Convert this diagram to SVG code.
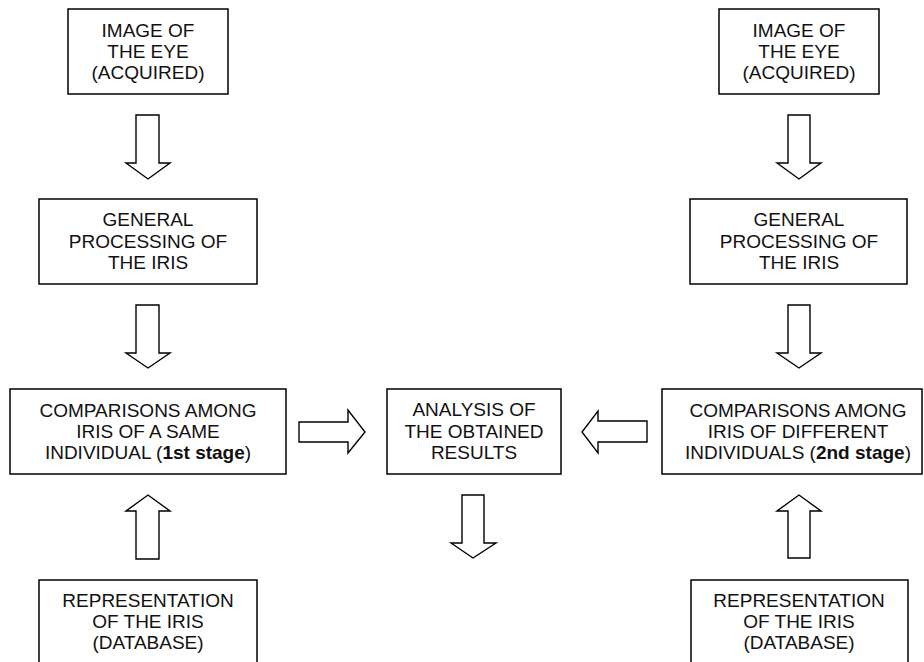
<svg xmlns="http://www.w3.org/2000/svg" width="924" height="662" viewBox="0 0 924 662">
<style>
.box{fill:#fff;stroke:#000;stroke-width:1.5}
.arr{fill:#fff;stroke:#000;stroke-width:1.4;stroke-linejoin:miter}
text{font-family:"Liberation Sans",Arial,sans-serif;font-size:19px;fill:#111;text-anchor:middle}
.b{font-weight:bold}
</style>
<rect width="924" height="662" fill="#fff"/>
<g id="connectors">
<path class="arr" d="M136,115 H159 V163 H170 L148,179 L126,163 H136 Z"/>
<path class="arr" d="M136,305 H159 V353 H170 L148,368 L126,353 H136 Z"/>
<path class="arr" d="M136,559 H159 V511 H170 L148,495 L126,511 H136 Z"/>
<path class="arr" d="M788,115 H810 V163 H821 L799,179 L777,163 H788 Z"/>
<path class="arr" d="M788,305 H810 V353 H821 L799,368 L777,353 H788 Z"/>
<path class="arr" d="M788,558 H810 V511 H821 L799,495 L777,511 H788 Z"/>
<path class="arr" d="M299,422 H348 V410 L365,432 L348,453 V442 H299 Z"/>
<path class="arr" d="M647,421 H598 V411 L582,432 L598,453 V442 H647 Z"/>
<path class="arr" d="M462,495 H484 V543 H496 L473,558 L451,543 H462 Z"/>
</g>
<g id="left-image">
<rect class="box" x="68" y="9" width="160" height="85"/>
<text x="148" y="36.5">IMAGE OF</text>
<text x="148" y="57.5">THE EYE</text>
<text x="148" y="78.5">(ACQUIRED)</text>
</g>
<g id="left-processing">
<rect class="box" x="39" y="199" width="218" height="85"/>
<text x="148" y="226">GENERAL</text>
<text x="148" y="247.5">PROCESSING OF</text>
<text x="148" y="269">THE IRIS</text>
</g>
<g id="left-comparisons">
<rect class="box" x="10" y="389" width="276" height="85"/>
<text x="148" y="417">COMPARISONS AMONG</text>
<text x="148" y="438">IRIS OF A SAME</text>
<text x="148" y="459">INDIVIDUAL (<tspan class="b">1st stage</tspan>)</text>
</g>
<g id="left-database">
<rect class="box" x="39" y="580" width="218" height="90"/>
<text x="148" y="607">REPRESENTATION</text>
<text x="148" y="628">OF THE IRIS</text>
<text x="148" y="649">(DATABASE)</text>
</g>
<g id="analysis">
<rect class="box" x="387" y="389" width="174" height="85"/>
<text x="474" y="416">ANALYSIS OF</text>
<text x="474" y="437.5">THE OBTAINED</text>
<text x="474" y="459">RESULTS</text>
</g>
<g id="right-image">
<rect class="box" x="719" y="9" width="160" height="85"/>
<text x="799" y="36.5">IMAGE OF</text>
<text x="799" y="57.5">THE EYE</text>
<text x="799" y="78.5">(ACQUIRED)</text>
</g>
<g id="right-processing">
<rect class="box" x="690" y="199" width="217" height="85"/>
<text x="799" y="226">GENERAL</text>
<text x="799" y="247.5">PROCESSING OF</text>
<text x="799" y="269">THE IRIS</text>
</g>
<g id="right-comparisons">
<rect class="box" x="662" y="389" width="260" height="85"/>
<text x="798" y="417">COMPARISONS AMONG</text>
<text x="798" y="438">IRIS OF DIFFERENT</text>
<text x="798" y="459">INDIVIDUALS (<tspan class="b">2nd stage</tspan>)</text>
</g>
<g id="right-database">
<rect class="box" x="691" y="580" width="217" height="90"/>
<text x="799" y="607">REPRESENTATION</text>
<text x="799" y="628">OF THE IRIS</text>
<text x="799" y="649">(DATABASE)</text>
</g>
</svg>
